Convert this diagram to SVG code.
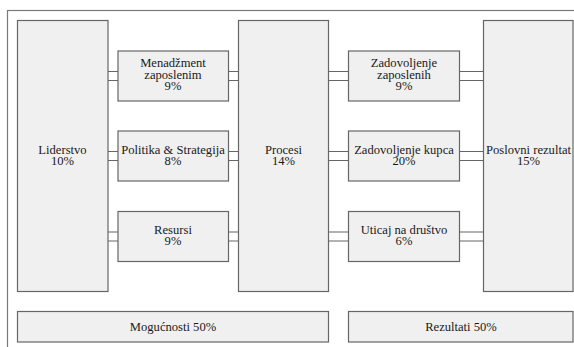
<svg xmlns="http://www.w3.org/2000/svg" width="574" height="347" viewBox="0 0 574 347">
<style>
.frame{fill:#ffffff;stroke:#7a7a7a;stroke-width:1.2}
.box{fill:#f0f0f0;stroke:#666666;stroke-width:1.2}
.c{fill:none;stroke:#666666;stroke-width:1.2}
.t{font-family:'Liberation Serif','DejaVu Serif',serif;font-size:12.6px;fill:#1a1a1a;text-anchor:middle}
</style>
<rect width="574" height="347" fill="#ffffff"/>
<rect class="frame" x="7.5" y="10.5" width="580" height="350"/>
<g id="connectors">
<path class="c" d="M108 71.5H118M108 80.5H118M228 71.5H238M228 80.5H238"/>
<path class="c" d="M108 151.5H118M108 160.5H118M228 151.5H238M228 160.5H238"/>
<path class="c" d="M108 232H118M108 241H118M228 232H238M228 241H238"/>
<path class="c" d="M328 71.5H348M328 80.5H348M460 71.5H483M460 80.5H483"/>
<path class="c" d="M328 151.5H348M328 160.5H348M460 151.5H483M460 160.5H483"/>
<path class="c" d="M328 232H348M328 241H348M460 232H483M460 241H483"/>
</g>
<g class="t" font-family="Liberation Serif, DejaVu Serif, serif">
<g id="liderstvo">
<rect class="box" x="17.5" y="20.5" width="90.5" height="271"/>
<text x="62.5" y="154">Liderstvo</text>
<text x="62.5" y="165.3">10%</text>
</g>
<g id="menadzment">
<rect class="box" x="118" y="51" width="110.5" height="50"/>
<text x="173" y="67">Menadžment</text>
<text x="173" y="78.5">zaposlenim</text>
<text x="173" y="90">9%</text>
</g>
<g id="politika">
<rect class="box" x="118" y="131" width="110.5" height="50"/>
<text x="173" y="154">Politika &amp; Strategija</text>
<text x="173" y="165.3">8%</text>
</g>
<g id="resursi">
<rect class="box" x="118" y="211.5" width="110.5" height="50"/>
<text x="173" y="234">Resursi</text>
<text x="173" y="245.3">9%</text>
</g>
<g id="procesi">
<rect class="box" x="238.5" y="20.5" width="90" height="271"/>
<text x="283.5" y="154">Procesi</text>
<text x="283.5" y="165.3">14%</text>
</g>
<g id="zadovoljenje-zaposlenih">
<rect class="box" x="348.5" y="51" width="111" height="50"/>
<text x="404" y="67">Zadovoljenje</text>
<text x="404" y="78.5">zaposlenih</text>
<text x="404" y="90">9%</text>
</g>
<g id="zadovoljenje-kupca">
<rect class="box" x="348.5" y="131" width="111" height="50"/>
<text x="404" y="154">Zadovoljenje kupca</text>
<text x="404" y="165.3">20%</text>
</g>
<g id="uticaj">
<rect class="box" x="348.5" y="211.5" width="111" height="50"/>
<text x="404" y="234">Uticaj na društvo</text>
<text x="404" y="245.3">6%</text>
</g>
<g id="poslovni">
<rect class="box" x="483.5" y="20.5" width="89.5" height="271"/>
<text x="528.5" y="154">Poslovni rezultat</text>
<text x="528.5" y="165.3">15%</text>
</g>
<g id="mogucnosti">
<rect class="box" x="17.5" y="311.5" width="311" height="30.5"/>
<text x="173" y="330.5">Mogućnosti 50%</text>
</g>
<g id="rezultati">
<rect class="box" x="348.5" y="311.5" width="224.5" height="30.5"/>
<text x="461" y="330.5">Rezultati 50%</text>
</g>
</g>
</svg>
